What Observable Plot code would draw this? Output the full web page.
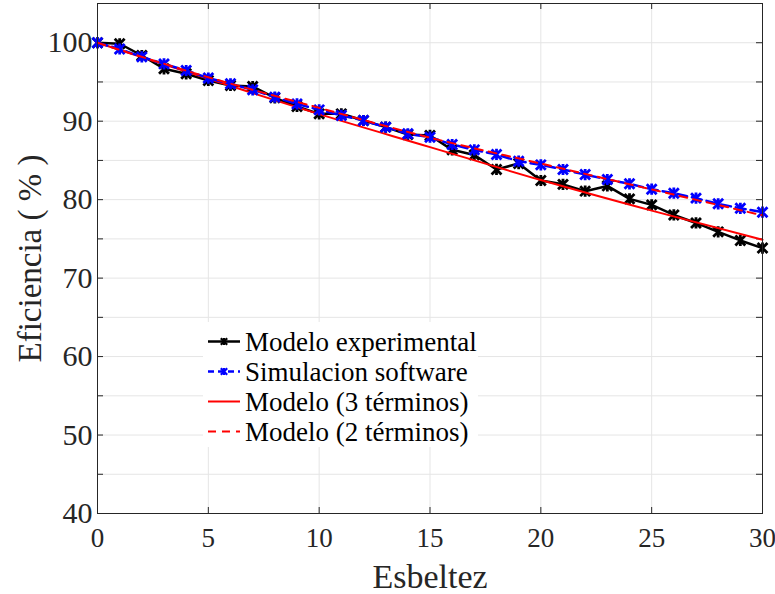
<!DOCTYPE html>
<html><head><meta charset="utf-8">
<script src="https://cdn.jsdelivr.net/npm/d3@7"></script>
<script src="https://cdn.jsdelivr.net/npm/@observablehq/plot@0.6"></script>
<style>
body{margin:0;background:#fff}
#chart{position:relative;width:775px;height:594px}
#chart svg text{font-family:"Liberation Serif","Times New Roman",serif}
</style>
</head><body><div id="chart"></div>
<script>
// ---- data ----
const esbeltez = [0,1,2,3,4,5,6,7,8,9,10,11,12,13,14,15,16,17,18,19,20,21,22,23,24,25,26,27,28,29,30];
const experimental = [100,99.87,98.37,96.68,96.04,95.19,94.55,94.42,92.98,91.87,90.94,90.94,90.09,89.24,88.3,88.18,86.35,85.7,83.85,84.6,82.44,81.95,81.08,81.75,80.1,79.33,78.05,77.03,75.9,74.8,73.83];
const simulacion = [100,99.2,98.2,97.3,96.46,95.5,94.77,94.0,93.06,92.2,91.45,90.73,90.09,89.24,88.4,87.96,87.03,86.35,85.76,84.9,84.44,83.84,83.2,82.57,82.02,81.33,80.82,80.19,79.47,78.9,78.4];
const modeloX = [0,5,10,15,20,25,30];
const modelo3 = [100,95.4,90.9,86.7,82.5,78.6,74.9];
const modelo2 = [100,95.6,91.7,87.9,84.6,81.3,78.0];
const xTicks = [0,5,10,15,20,25,30];
const yTicks = [40,50,60,70,80,90,100];
const yGrid = [40,45,50,55,60,65,70,75,80,85,90,95,100,105];
const legendLabels = ["Modelo experimental","Simulacion software","Modelo (3 términos)","Modelo (2 términos)"];
const xLabel = "Esbeltez";
const yLabel = "Eficiencia ( % )";

const expData = esbeltez.map((x,i)=>({x, y: experimental[i]}));
const simData = esbeltez.map((x,i)=>({x, y: simulacion[i]}));
const m3Data = modeloX.map((x,i)=>({x, y: modelo3[i]}));
const m2Data = modeloX.map((x,i)=>({x, y: modelo2[i]}));

const asterisk = {draw(ctx, size){
  const r = Math.sqrt(size/Math.PI), d = r*Math.SQRT1_2;
  ctx.moveTo(-d,-d); ctx.lineTo(d,d);
  ctx.moveTo(-d,d); ctx.lineTo(d,-d);
  ctx.moveTo(0,-r*0.8); ctx.lineTo(0,r*0.8);
}};

const FONT = "'Liberation Serif', 'Times New Roman', serif";
const AX = "#262626";
const W = 775, H = 594, mL = 97, mR = 13, mT = 3, mB = 81;
const pw = W-mL-mR, ph = H-mT-mB;

const chart = Plot.plot({
  width: W, height: H,
  marginLeft: mL, marginRight: mR, marginTop: mT, marginBottom: mB,
  style: {fontFamily: FONT, color: AX, background: "#fff", overflow: "visible"},
  x: {domain: [0,30]},
  y: {domain: [40,105]},
  marks: [
    Plot.gridX(xTicks, {stroke: "#e5e5e5", strokeOpacity: 1, strokeWidth: 1}),
    Plot.gridY(yGrid, {stroke: "#e5e5e5", strokeOpacity: 1, strokeWidth: 1}),
    // inward ticks
    Plot.ruleX(xTicks, {x: d=>d, insetTop: ph-6, stroke: AX}),
    Plot.ruleX(xTicks, {x: d=>d, insetBottom: ph-6, stroke: AX}),
    Plot.ruleY(yGrid, {y: d=>d, insetRight: pw-6, stroke: AX}),
    Plot.ruleY(yGrid, {y: d=>d, insetLeft: pw-6, stroke: AX}),
    Plot.axisX(xTicks, {tickSize: 0, tickPadding: 14, fontSize: 27, fontFamily: FONT, label: null, fill: AX}),
    Plot.axisY(yTicks, {tickSize: 0, tickPadding: 5, fontSize: 30, fontFamily: FONT, label: null, fill: AX}),
    Plot.text([xLabel], {frameAnchor: "bottom", textAnchor: "middle", lineAnchor: "middle", dy: 64, fontSize: 34, fontFamily: FONT, fill: AX}),
    Plot.text([yLabel], {frameAnchor: "left", textAnchor: "middle", lineAnchor: "middle", dx: -67, rotate: -90, fontSize: 33, fontFamily: FONT, fill: AX}),
    // series
    Plot.line(expData, {x: "x", y: "y", stroke: "#000", strokeWidth: 2.5}),
    Plot.dot(expData, {x: "x", y: "y", symbol: asterisk, r: 7, stroke: "#000", strokeWidth: 2.8}),
    Plot.line(m3Data, {x: "x", y: "y", stroke: "#ff0000", strokeWidth: 2, curve: "monotone-x"}),
    Plot.line(simData, {x: "x", y: "y", stroke: "#0000ff", strokeWidth: 2.5, strokeDasharray: "10,5"}),
    Plot.dot(simData, {x: "x", y: "y", symbol: asterisk, r: 7, stroke: "#0000ff", strokeWidth: 2.8}),
    Plot.line(m2Data, {x: "x", y: "y", stroke: "#ff0000", strokeWidth: 2, strokeDasharray: "8,6", curve: "monotone-x"}),
    Plot.frame({stroke: AX, strokeWidth: 1})
  ]
});

// legend (inside the axes)
const svg = d3.select(chart);
const lg = svg.append("g").attr("font-family", FONT).attr("text-anchor", "start");
lg.append("rect").attr("x", 203).attr("y", 322).attr("width", 275).attr("height", 125).attr("fill", "#fff");
const styles = [
  {stroke:"#000", w:2.5, dash:null, marker:true},
  {stroke:"#0000ff", w:2.5, dash:"6,4", marker:true},
  {stroke:"#ff0000", w:2, dash:null, marker:false},
  {stroke:"#ff0000", w:2, dash:"8,6", marker:false}
];
legendLabels.forEach((lab, i) => {
  const cy = 341.5 + i*30;
  const g = lg.append("g");
  g.append("line").attr("x1", 208).attr("x2", 240).attr("y1", cy).attr("y2", cy)
    .attr("stroke", styles[i].stroke).attr("stroke-width", styles[i].w)
    .attr("stroke-dasharray", styles[i].dash);
  if (styles[i].marker) {
    g.append("path").attr("transform", `translate(224,${cy})`)
      .attr("d", d3.symbol(asterisk, Math.PI*4.5*4.5)())
      .attr("fill", "none").attr("stroke", styles[i].stroke).attr("stroke-width", 2.2);
  }
  g.append("text").attr("x", 245).attr("y", cy).attr("dy", "0.35em")
    .attr("text-anchor", "start")
    .attr("font-size", 27).attr("fill", "#000").text(lab);
});

document.getElementById("chart").appendChild(chart);
</script>
</body></html>
